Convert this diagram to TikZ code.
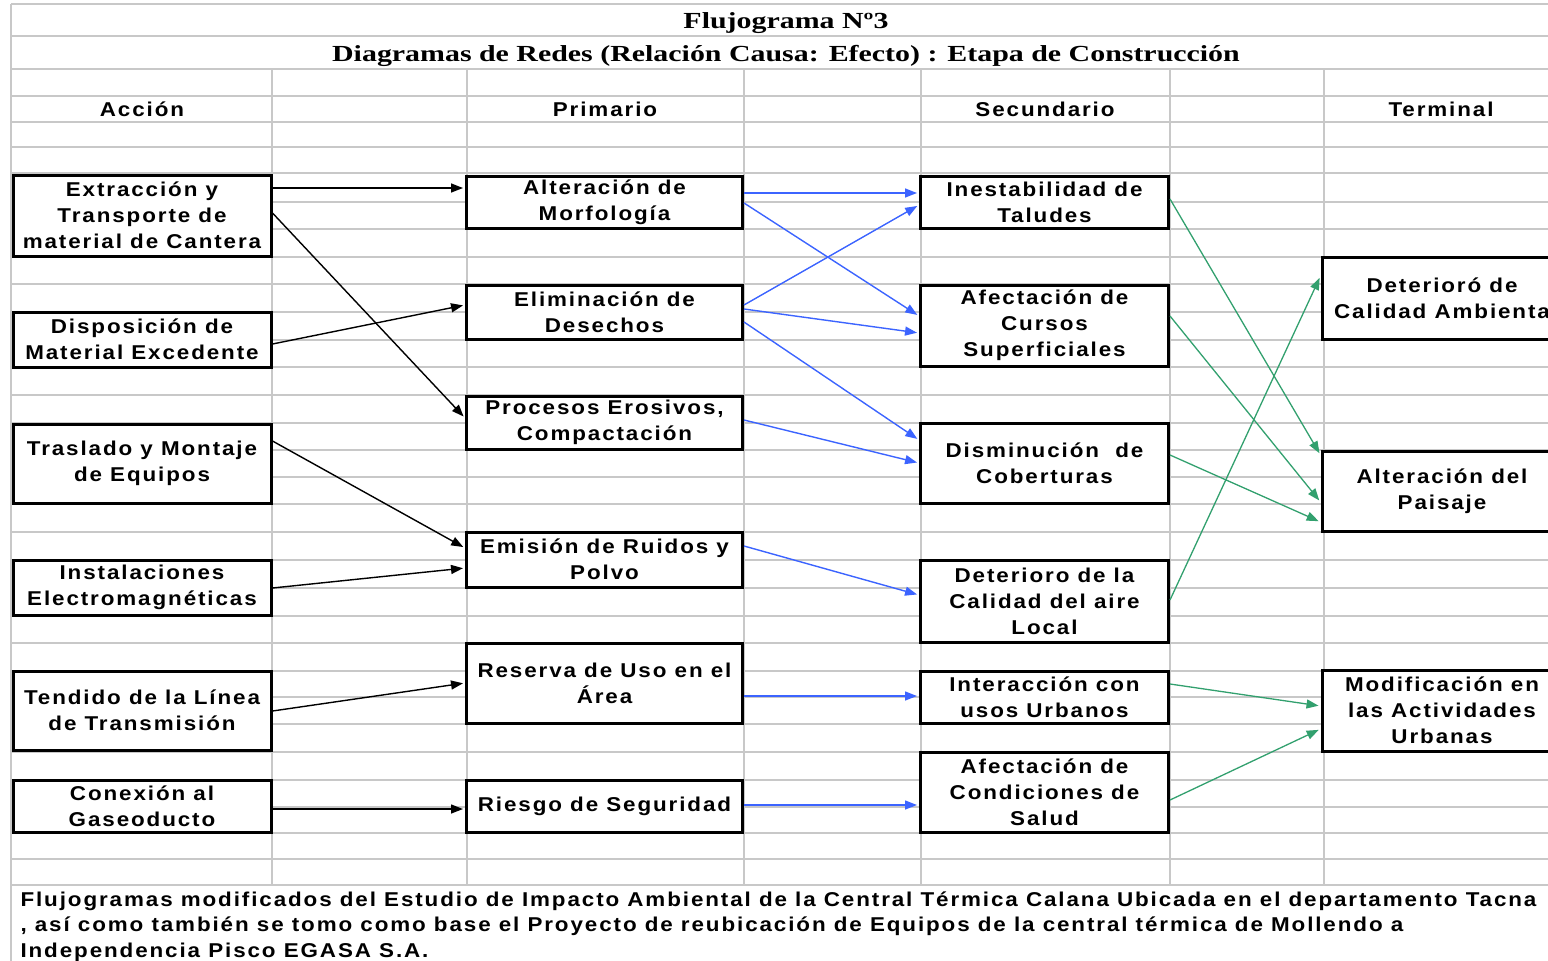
\documentclass[tikz,border=0pt]{standalone}
\usepackage{fontspec}
\usetikzlibrary{arrows.meta}
\newfontfamily\cellfont{Liberation Sans}[FakeStretch=1.12,LetterSpace=9.5]
\newfontfamily\headfont{Liberation Serif}[FakeStretch=1.3]
\definecolor{gridgray}{RGB}{200,200,200}
\definecolor{linkblue}{RGB}{60,100,255}
\definecolor{linkgreen}{RGB}{50,160,110}

\begin{document}
\begin{tikzpicture}[x=1pt,y=-1pt,
  cell/.style={font=\cellfont\bfseries\fontsize{20}{26}\selectfont},
  box/.style={cell, draw=black, line width=3pt, fill=white, align=center, inner sep=0pt},
  colA/.style={box, minimum width=258pt},
  colP/.style={box, minimum width=276pt},
  colS/.style={box, minimum width=248pt},
  colT/.style={box, minimum width=240pt},
  tip/.style={-{Triangle[length=12pt,width=9pt]}, shorten >=2pt},
  blk/.style={tip, draw=black, line width=1.4pt},
  blu/.style={tip, draw=linkblue, line width=1.4pt},
  grn/.style={tip, draw=linkgreen, line width=1.3pt},
  gridline/.style={draw=gridgray, line width=1.6pt}]

\useasboundingbox (0,0) rectangle (1548,961);
\clip (0,0) rectangle (1548,961);

% spreadsheet grid
\foreach \yy in {4,36,69,96,122,147,173,202,229,257,284,312,340,367,395,423,450,477,504,532,560,588,616,643,671,697,724,752,780,807,833,859,885}
  \draw[gridline] (11,\yy) -- (1560,\yy);
\foreach \xx in {272,467,744,921,1170,1324}
  \draw[gridline] (\xx,69) -- (\xx,885);
\draw[gridline] (11,4) -- (11,961);

% titles
\node[font=\headfont\bfseries\fontsize{23}{28}\selectfont] (title) at (786,23.5) {Flujograma Nº3};
\node[font=\headfont\bfseries\fontsize{23}{28}\selectfont] (subtitle) at (786,56) {Diagramas de Redes (Relación Causa: Efecto) : Etapa de Construcción};

% column headings
\node[cell] (hA) at (142,109) {Acción};
\node[cell] (hP) at (605,109) {Primario};
\node[cell] (hS) at (1045,109) {Secundario};
\node[cell] (hT) at (1441,109) {Terminal};

% actions
\node[colA, minimum height=81pt] (A1) at (142,215.5) {Extracción y\\Transporte de\\material de Cantera};
\node[colA, minimum height=55pt] (A2) at (142,339.5) {Disposición de\\Material Excedente};
\node[colA, minimum height=79pt] (A3) at (142,463.5) {Traslado y Montaje\\de Equipos};
\node[colA, minimum height=55pt] (A4) at (142,587.5) {Instalaciones\\Electromagnéticas};
\node[colA, minimum height=79pt] (A5) at (142,710.5) {Tendido de la Línea\\de Transmisión};
\node[colA, minimum height=52pt] (A6) at (142,806) {Conexión al\\Gaseoducto};

% primary effects
\node[colP, minimum height=52pt] (P1) at (604.5,202) {Alteración de\\Morfología};
\node[colP, minimum height=54pt] (P2) at (604.5,312) {Eliminación de\\Desechos};
\node[colP, minimum height=53pt] (P3) at (604.5,422.5) {Procesos Erosivos,\\Compactación};
\node[colP, minimum height=55pt] (P4) at (604.5,559.5) {Emisión de Ruidos y\\Polvo};
\node[colP, minimum height=80pt] (P5) at (604.5,683) {Reserva de Uso en el\\Área};
\node[colP, minimum height=52pt] (P6) at (604.5,806) {Riesgo de Seguridad};

% secondary effects
\node[colS, minimum height=52pt] (S1) at (1044.5,202) {Inestabilidad de\\Taludes};
\node[colS, minimum height=81pt] (S2) at (1044.5,325.5) {Afectación de\\Cursos\\Superficiales};
\node[colS, minimum height=80pt] (S3) at (1044.5,463) {Disminución~~de\\Coberturas};
\node[colS, minimum height=82pt] (S4) at (1044.5,601) {Deterioro de la\\Calidad del aire\\Local};
\node[colS, minimum height=52pt] (S5) at (1044.5,697) {Interacción con\\usos Urbanos};
\node[colS, minimum height=80pt] (S6) at (1044.5,792) {Afectación de\\Condiciones de\\Salud};

% terminal effects
\node[colT, minimum height=82pt] (T1) at (1442,298) {Deterioró de\\Calidad Ambienta};
\node[colT, minimum height=80pt] (T2) at (1442,491) {Alteración del\\Paisaje};
\node[colT, minimum height=81pt] (T3) at (1442,710.5) {Modificación en\\las Actividades\\Urbanas};

% action -> primary
\draw[blk] (A1.east |- 0,188) -- (P1.west |- 0,188);
\draw[blk] (A1.east |- 0,213) -- (P3.west |- 0,418);
\draw[blk] (A2.east |- 0,344) -- (P2.west |- 0,305);
\draw[blk] (A3.east |- 0,441) -- (P4.west |- 0,548);
\draw[blk] (A4.east |- 0,588) -- (P4.west |- 0,568);
\draw[blk] (A5.east |- 0,711) -- (P5.west |- 0,683);
\draw[blk] (A6.east |- 0,809) -- (P6.west |- 0,809);

% primary -> secondary
\draw[blu] (P1.east |- 0,193) -- (S1.west |- 0,193);
\draw[blu] (P1.east |- 0,203) -- (S2.west |- 0,316);
\draw[blu] (P2.east |- 0,305) -- (S1.west |- 0,205);
\draw[blu] (P2.east |- 0,309) -- (S2.west |- 0,333);
\draw[blu] (P2.east |- 0,322) -- (S3.west |- 0,440);
\draw[blu] (P3.east |- 0,420) -- (S3.west |- 0,463);
\draw[blu] (P4.east |- 0,546) -- (S4.west |- 0,595);
\draw[blu] (P5.east |- 0,696) -- (S5.west |- 0,696);
\draw[blu] (P6.east |- 0,805) -- (S6.west |- 0,805);

% secondary -> terminal
\draw[grn] (S1.east |- 0,199) -- (T2.west |- 0,455);
\draw[grn] (S2.east |- 0,316) -- (T2.west |- 0,502);
\draw[grn] (S3.east |- 0,455) -- (T2.west |- 0,522);
\draw[grn] (S4.east |- 0,600) -- (T1.west |- 0,276);
\draw[grn] (S5.east |- 0,684) -- (T3.west |- 0,706);
\draw[grn] (S6.east |- 0,800) -- (T3.west |- 0,729);

% source note
\node[cell, anchor=base west] (note1) at (17,906) {Flujogramas modificados del Estudio de Impacto Ambiental de la Central Térmica Calana Ubicada en el departamento Tacna};
\node[cell, anchor=base west] (note2) at (17,931.5) {, así como también se tomo como base el Proyecto de reubicación de Equipos de la central térmica de Mollendo a};
\node[cell, anchor=base west] (note3) at (17,957) {Independencia Pisco EGASA S.A.};
\end{tikzpicture}
\end{document}
